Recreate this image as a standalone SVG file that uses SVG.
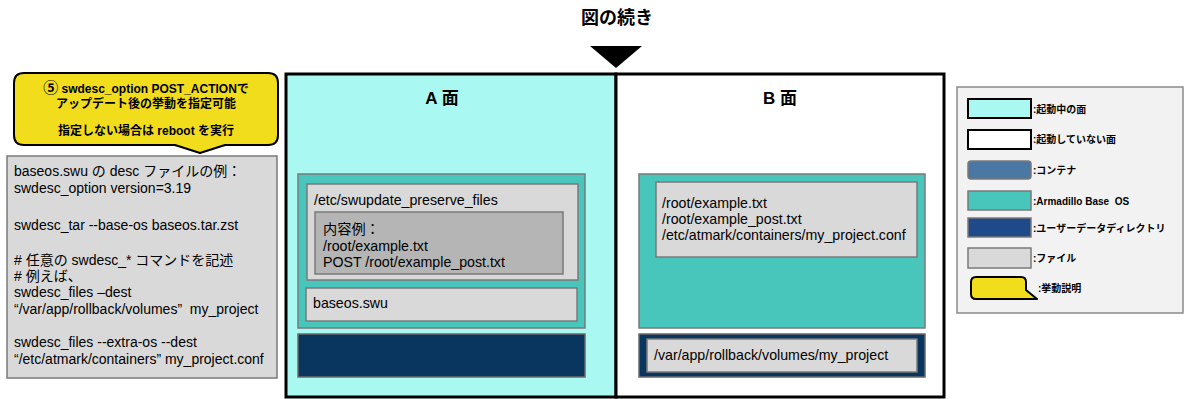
<svg xmlns="http://www.w3.org/2000/svg" width="1184" height="399" viewBox="0 0 1184 399">
<style>
text{font-family:"Liberation Sans","Noto Sans CJK JP",sans-serif;fill:#000}
.b{font-weight:bold}
.t13{font-size:14.2px}
.t14{font-size:14px}
.lg{font-size:10px;font-weight:bold}
.file{fill:#d9d9d9;stroke:#7a7a7a;stroke-width:1.5}
.os{fill:#48c6bb;stroke:#7a7a7a;stroke-width:1.5}
.ud{fill:#08365f;stroke:#6a6a6a;stroke-width:1.5}
.panel{stroke:#000;stroke-width:3}
.call{fill:#f2dd1d;stroke:#000;stroke-width:2;stroke-linejoin:round}
</style>
<rect width="1184" height="399" fill="#fff"/>

<g id="title">
<text x="617" y="24" class="b" font-size="18" text-anchor="middle">図の続き</text>
</g>

<g id="connectors">
<polygon points="590,46 642,46 616,68" fill="#000"/>
</g>

<g id="panel-a">
<rect class="panel" x="286" y="74" width="330" height="323" fill="#aaf8f2"/>
<text x="442" y="104" class="b" font-size="17" text-anchor="middle">A 面</text>
</g>

<g id="panel-b">
<rect class="panel" x="616" y="74" width="328" height="323" fill="#fff"/>
<text x="780" y="104" class="b" font-size="17" text-anchor="middle">B 面</text>
</g>

<g id="a-os">
<rect class="os" x="298" y="174" width="287" height="154"/>
</g>
<g id="a-preserve">
<rect class="file" x="307" y="184" width="271" height="96"/>
<text x="314" y="205" class="t13">/etc/swupdate_preserve_files</text>
</g>
<g id="a-preserve-content">
<rect x="315" y="212" width="248" height="62" fill="#b5b5b5" stroke="#7a7a7a" stroke-width="1.5"/>
<text x="323" y="234" class="t13">内容例：</text>
<text x="323" y="251" class="t13">/root/example.txt</text>
<text x="323" y="267" class="t13">POST /root/example_post.txt</text>
</g>
<g id="a-swu">
<rect class="file" x="306" y="288" width="271" height="33"/>
<text x="313" y="308" class="t13">baseos.swu</text>
</g>
<g id="a-userdata">
<rect class="ud" x="298" y="334" width="287" height="43"/>
</g>

<g id="b-os">
<rect class="os" x="639" y="174" width="286" height="154"/>
</g>
<g id="b-files">
<rect class="file" x="656" y="182" width="261" height="75"/>
<text x="662" y="208" class="t13">/root/example.txt</text>
<text x="662" y="224" class="t13">/root/example_post.txt</text>
<text x="662" y="240" class="t13">/etc/atmark/containers/my_project.conf</text>
</g>
<g id="b-userdata">
<rect class="ud" x="639" y="334" width="286" height="43"/>
<rect class="file" x="647" y="339" width="270" height="33"/>
<text x="654" y="360" class="t13">/var/app/rollback/volumes/my_project</text>
</g>

<g id="callout">
<path class="call" d="M24,73 H268 Q278,73 278,83 V135 Q278,145 268,145 H225 L200,153 L175,145 H24 Q14,145 14,135 V83 Q14,73 24,73 Z"/>
<text x="146" y="93" class="b" font-size="12" text-anchor="middle"><tspan font-size="15">⑤</tspan> swdesc_option POST_ACTIONで</text>
<text x="146" y="108" class="b" font-size="12" text-anchor="middle">アップデート後の挙動を指定可能</text>
<text x="146" y="135" class="b" font-size="12" text-anchor="middle">指定しない場合は reboot を実行</text>
</g>

<g id="desc-example">
<rect class="file" x="7" y="156" width="270" height="222"/>
<text x="14" y="176" class="t14">baseos.swu の desc ファイルの例：</text>
<text x="14" y="193" class="t14">swdesc_option version=3.19</text>
<text x="14" y="230" class="t14">swdesc_tar --base-os baseos.tar.zst</text>
<text x="14" y="265" class="t14"># 任意の swdesc_* コマンドを記述</text>
<text x="14" y="281" class="t14"># 例えば、</text>
<text x="14" y="297" class="t14">swdesc_files –dest</text>
<text x="14" y="314" class="t14" xml:space="preserve">“/var/app/rollback/volumes”  my_project</text>
<text x="14" y="347" class="t14">swdesc_files --extra-os --dest</text>
<text x="14" y="364" class="t14">“/etc/atmark/containers” my_project.conf</text>
</g>

<g id="legend">
<rect x="957" y="87" width="226" height="226" fill="#f2f2f2" stroke="#8a8a8a" stroke-width="1.5"/>
<rect x="968" y="99" width="63" height="19" fill="#aaf8f2" stroke="#000" stroke-width="2"/>
<text x="1033" y="113" class="lg">:起動中の面</text>
<rect x="968" y="130" width="63" height="19" fill="#fff" stroke="#000" stroke-width="2"/>
<text x="1033" y="143" class="lg">:起動していない面</text>
<rect x="968" y="161" width="63" height="18" rx="3" fill="#4a77a3" stroke="#7a7a7a" stroke-width="1.5"/>
<text x="1033" y="174" class="lg">:コンテナ</text>
<rect x="968" y="191" width="63" height="19" fill="#48c6bb" stroke="#7a7a7a" stroke-width="1.5"/>
<text x="1033" y="205" class="lg" xml:space="preserve">:Armadillo Base  OS</text>
<rect x="968" y="218" width="63" height="19" fill="#1f4a8a" stroke="#7a7a7a" stroke-width="1.5"/>
<text x="1033" y="232" class="lg">:ユーザーデータディレクトリ</text>
<rect x="968" y="248" width="63" height="20" fill="#d9d9d9" stroke="#7a7a7a" stroke-width="1.5"/>
<text x="1033" y="262" class="lg">:ファイル</text>
<path class="call" d="M976,277 H1021 Q1026,277 1026,282 V290 L1037,299 H1018 H976 Q971,299 971,294 V282 Q971,277 976,277 Z"/>
<text x="1038" y="292" class="lg">:挙動説明</text>
</g>
</svg>
